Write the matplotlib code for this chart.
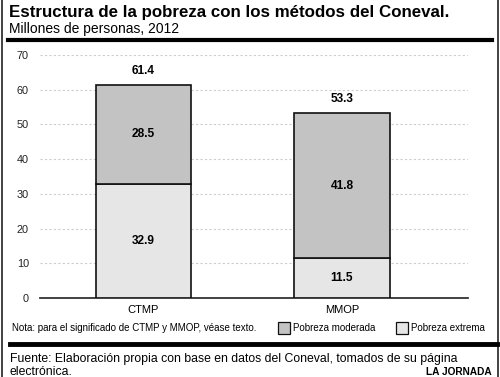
import matplotlib
matplotlib.use("Agg")
import matplotlib.pyplot as plt
from matplotlib.lines import Line2D
from matplotlib.patches import Rectangle

categories = ["CTMP", "MMOP"]
extrema = [32.9, 11.5]
moderada = [28.5, 41.8]
totals = [61.4, 53.3]
yticks = [0, 10, 20, 30, 40, 50, 60, 70]

W, H = 500, 377
fig = plt.figure(figsize=(W / 100, H / 100), dpi=100)
plt.rcParams['font.family'] = ['Liberation Sans', 'DejaVu Sans']

def fx(px):
    return px / W

def fy(py):
    return 1 - py / H

ax = fig.add_axes([fx(40), fy(298), fx(468) - fx(40), fy(55) - fy(298)])
x = list(range(len(categories)))
c_mod = "#c3c3c3"
c_ext = "#e6e6e6"
bw = 0.48
ax.bar(x, extrema, width=bw, color=c_ext, edgecolor="#111111", linewidth=1.2, zorder=3)
ax.bar(x, moderada, width=bw, bottom=extrema, color=c_mod, edgecolor="#111111", linewidth=1.2, zorder=3)
for i in x:
    ax.text(i, extrema[i] / 2, f"{extrema[i]}", ha="center", va="center", fontsize=8.6, fontweight="bold", zorder=4)
    ax.text(i, extrema[i] + moderada[i] / 2, f"{moderada[i]}", ha="center", va="center", fontsize=8.6, fontweight="bold", zorder=4)
    ax.text(i, totals[i] + 2.3, f"{totals[i]}", ha="center", va="bottom", fontsize=8.6, fontweight="bold", zorder=4)

ax.set_xlim(-0.521, 1.635)
ax.set_ylim(0, 70)
ax.set_yticks(yticks)
for s in ["top", "right", "left"]:
    ax.spines[s].set_visible(False)
ax.spines["bottom"].set_color("#333333")
ax.spines["bottom"].set_linewidth(1.3)
ax.tick_params(axis="y", length=0, labelsize=7.8, pad=8, colors="#222222")
ax.tick_params(axis="x", length=0, labelsize=8, pad=5)
ax.set_xticks(x)
ax.set_xticklabels(categories)
ax.yaxis.grid(True, linestyle=(0, (2, 2)), color="#cccccc", linewidth=0.8, zorder=0)
ax.set_axisbelow(True)

# titles
fig.text(fx(9), fy(12), "Estructura de la pobreza con los métodos del Coneval.", fontsize=12.2, fontweight="bold", va="center", ha="left")
fig.text(fx(9), fy(29), "Millones de personas, 2012", fontsize=10, va="center", ha="left")

# frame lines
fig.add_artist(Line2D([fx(2), fx(2)], [0, 1], color="#222222", linewidth=1.2))
fig.add_artist(Line2D([fx(497.5), fx(497.5)], [0, 1], color="#222222", linewidth=1.2))
fig.add_artist(Line2D([fx(8), fx(492)], [fy(40), fy(40)], color="black", linewidth=3))
fig.add_artist(Line2D([fx(10), fx(497)], [fy(344), fy(344)], color="black", linewidth=3.5))

# note and legend
fig.text(fx(12), fy(328), "Nota: para el significado de CTMP y MMOP, véase texto.", fontsize=7, va="center", ha="left")
fig.add_artist(Rectangle((fx(278), fy(334)), fx(12), fy(322) - fy(334), facecolor=c_mod, edgecolor="#111111", linewidth=0.9, transform=fig.transFigure))
fig.text(fx(293), fy(328), "Pobreza moderada", fontsize=7, va="center", ha="left")
fig.add_artist(Rectangle((fx(396), fy(334)), fx(12), fy(322) - fy(334), facecolor=c_ext, edgecolor="#111111", linewidth=0.9, transform=fig.transFigure))
fig.text(fx(411), fy(328), "Pobreza extrema", fontsize=7, va="center", ha="left")

# source
fig.text(fx(10), fy(359), "Fuente: Elaboración propia con base en datos del Coneval, tomados de su página", fontsize=8.8, va="center", ha="left")
fig.text(fx(10), fy(372), "electrónica.", fontsize=8.8, va="center", ha="left")
fig.text(fx(492), fy(372), "LA JORNADA", fontsize=7.3, fontweight="bold", va="center", ha="right")

fig.savefig("out.png", dpi=100)
